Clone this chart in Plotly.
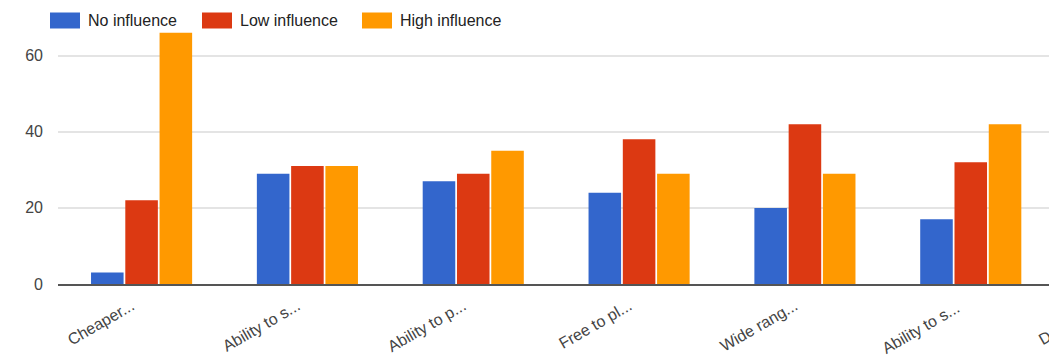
import plotly.graph_objects as go

categories = ["Cheaper...", "Ability to s...", "Ability to p...", "Free to pl...", "Wide rang...", "Ability to s... "]
no_influence = [3, 29, 27, 24, 20, 17]
low_influence = [22, 31, 29, 38, 42, 32]
high_influence = [66, 31, 35, 29, 29, 42]
y_ticks = [0, 20, 40, 60]
cut_off_label = "D..."

series = [
    ("No influence", no_influence, "#3366cc"),
    ("Low influence", low_influence, "#dc3912"),
    ("High influence", high_influence, "#ff9900"),
]

OFF = 8  # page body margin
W, H = 1057 - OFF, 357 - OFF
# plot area in viewport pixels: left 58, right 1057, top 29, bottom 284
ML, MR, MT = 58 - OFF, 0, 29 - OFF
MB = H - (284 - OFF)
PW, PH = W - ML - MR, H - MT - MB

def px_x(p):  # viewport px -> paper
    return (p - OFF - ML) / PW

def px_y(p):
    return (H - MB - (p - OFF)) / PH

fig = go.Figure()
for name, vals, col in series:
    fig.add_trace(go.Bar(x=categories, y=vals, name=name, showlegend=False,
                         marker=dict(color=col, line=dict(width=0))))

# custom legend (wide swatches like the original)
swatch_left = [50, 202, 362]
shapes, annotations = [], []
for (name, vals, col), sx in zip(series, swatch_left):
    shapes.append(dict(type="rect", xref="paper", yref="paper",
                       x0=px_x(sx), x1=px_x(sx + 30), y0=px_y(28.5), y1=px_y(12.5),
                       fillcolor=col, line=dict(width=0)))
    annotations.append(dict(xref="paper", yref="paper", x=px_x(sx + 36), y=px_y(21),
                            xanchor="left", yanchor="middle", showarrow=False, text=name,
                            font=dict(size=16, color="#222222")))

annotations.append(dict(xref="paper", yref="paper", x=px_x(1034), y=px_y(349),
                        xanchor="left", yanchor="bottom", showarrow=False, text=cut_off_label,
                        textangle=-30, borderpad=0, font=dict(size=16, color="#444444")))

fig.update_layout(
    width=W, height=H,
    margin=dict(l=ML, r=MR, t=MT, b=MB, autoexpand=False),
    paper_bgcolor="white", plot_bgcolor="white",
    barmode="group", bargap=0.38, bargroupgap=0.05,
    font=dict(family="Liberation Sans, Arial, sans-serif", size=16, color="#444444"),
    showlegend=False,
    shapes=shapes, annotations=annotations,
)
fig.update_xaxes(range=[-0.504, 5.52], tickangle=-30, showline=True, linecolor="#555555", linewidth=1.5,
                 showgrid=False, ticks="", automargin=False, ticklabelshift=-10, ticklabelstandoff=5,
                 tickfont=dict(size=16, color="#444444"))
fig.update_yaxes(range=[0, 67], tickvals=y_ticks, showgrid=True, gridcolor="#e4e4e4", gridwidth=2,
                 zeroline=False, ticks="", ticklabelstandoff=14, automargin=False,
                 tickfont=dict(size=16, color="#444444"))

fig.write_html("out.html")
